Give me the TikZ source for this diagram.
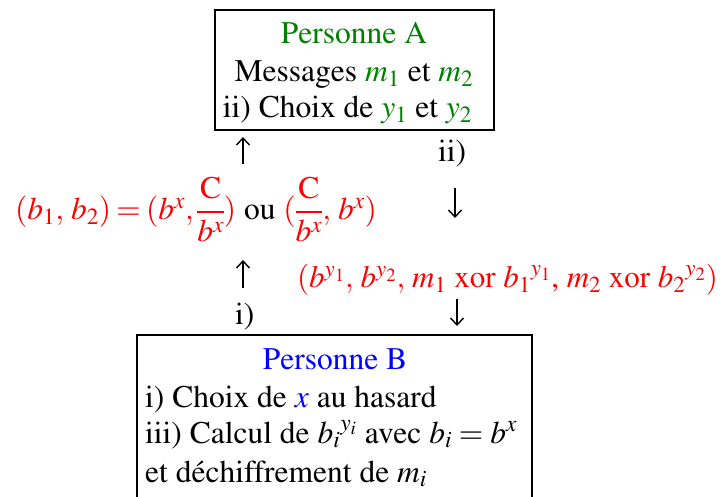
\documentclass[tikz,border=0pt]{standalone}
\usepackage[T1]{fontenc}
\usepackage{mathptmx}
\usepackage{amsmath}
\definecolor{gA}{RGB}{0,128,0}
\definecolor{rr}{RGB}{255,0,0}
\definecolor{bB}{RGB}{0,0,255}
\usetikzlibrary{arrows.meta}
\begin{document}
\begin{tikzpicture}[x=1pt,y=-1pt,
  txt/.style={inner sep=0pt, font=\fontfamily{ptm}\fontsize{31.5}{38}\selectfont},
  frame/.style={draw=black, line width=2.2pt, inner sep=0pt},
  arr/.style={line width=1.4pt, -{Straight Barb[length=7pt,width=13pt,line width=1.4pt]}}]
\useasboundingbox (0,0) rectangle (721,497);
\clip (0,0) rectangle (721,497);
% boxes
\node[frame, minimum width=279pt, minimum height=120pt] (A) at (354.5,70) {};
\node[frame, minimum width=395pt, minimum height=200pt] (B) at (334.5,435) {};
% box A text
\node[txt, anchor=base] (a1) at (354,44) {\textcolor{gA}{Personne A}};
\node[txt, anchor=base] (a2) at (354,82) {Messages \textcolor{gA}{$m_1$} et \textcolor{gA}{$m_2$}};
\node[txt, anchor=base] (a3) at (347.5,118) {ii) Choix de \textcolor{gA}{$y_1$} et \textcolor{gA}{$y_2$}};
% box B text
\node[txt, anchor=base] (b1) at (335,370) {\textcolor{bB}{Personne B}};
\node[txt, anchor=base west] (b2) at (145,407) {i) Choix de \textcolor{bB}{$x$} au hasard};
\node[txt, anchor=base west] (b3) at (145,443) {iii) Calcul de ${b_i}^{y_i}$ avec $b_i = b^x$};
\node[txt, anchor=base west] (b4) at (145,482) {et d\'echiffrement de $m_i$};
% middle labels
\node[txt, anchor=base west] (eq) at (15,220) {\thickmuskip=3mu\nulldelimiterspace=0pt\textcolor{rr}{$(b_1,\,b_2) = (b^x,\dfrac{\mathrm{C}}{b^x})$} ou \textcolor{rr}{$(\dfrac{\mathrm{C}}{b^x},\,b^x)$}};
\node[txt, anchor=base west, font=\fontfamily{ptm}\fontsize{31}{38}\selectfont] (msg) at (297,288) {\textcolor{rr}{$(b^{y_1},\,b^{y_2},\,m_1$ xor ${b_1}^{y_1}$, $m_2$ xor ${b_2}^{y_2})$}};
\node[txt, anchor=base west] (lii) at (438,162) {ii)};
\node[txt, anchor=base west] (li) at (235,325) {i)};
% arrows
\coordinate (u1s) at (243,164); \coordinate (u1e) at (243,137);
\coordinate (d1s) at (455,188); \coordinate (d1e) at (455,218);
\coordinate (u2s) at (243,288); \coordinate (u2e) at (243,260);
\coordinate (d2s) at (457,299); \coordinate (d2e) at (457,326);
\draw[arr] (u1s) -- (u1e);
\draw[arr] (d1s) -- (d1e);
\draw[arr] (u2s) -- (u2e);
\draw[arr] (d2s) -- (d2e);
\end{tikzpicture}
\end{document}
